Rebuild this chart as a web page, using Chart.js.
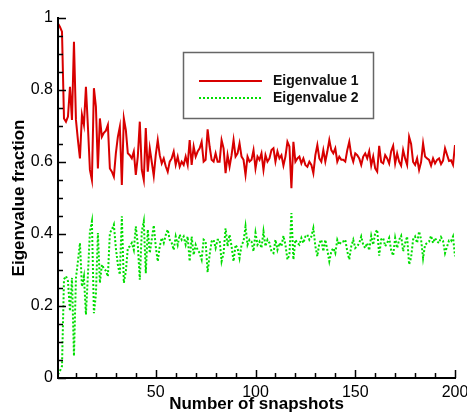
<!DOCTYPE html>
<html>
<head>
<meta charset="utf-8">
<script src="https://cdn.jsdelivr.net/npm/chart.js"></script>
<style>
  html, body { margin: 0; padding: 0; background: #fff; }
  canvas { display: block; }
</style>
</head>
<body>
<canvas id="chart" width="467" height="419"></canvas>
<script>
const FONT = '"Liberation Sans", Arial, Helvetica, sans-serif';

// snapshot count, 1..200
const snapshots = Array.from({ length: 200 }, (_, i) => i + 1);

const eigen1 = [
  0.985, 0.975, 0.962, 0.721, 0.712, 0.726, 0.809, 0.717, 0.934, 0.717,
  0.660, 0.610, 0.731, 0.703, 0.809, 0.698, 0.578, 0.550, 0.805, 0.754,
  0.582, 0.721, 0.670, 0.681, 0.687, 0.703, 0.582, 0.573, 0.559, 0.624,
  0.670, 0.698, 0.536, 0.721, 0.689, 0.624, 0.619, 0.610, 0.629, 0.564,
  0.615, 0.712, 0.578, 0.550, 0.694, 0.573, 0.638, 0.600, 0.561, 0.620,
  0.661, 0.619, 0.596, 0.610, 0.588, 0.573, 0.601, 0.610, 0.629, 0.592,
  0.615, 0.587, 0.601, 0.592, 0.615, 0.592, 0.661, 0.592, 0.643, 0.615,
  0.629, 0.638, 0.656, 0.601, 0.606, 0.691, 0.643, 0.606, 0.601, 0.624,
  0.601, 0.601, 0.661, 0.638, 0.569, 0.619, 0.587, 0.619, 0.661, 0.615,
  0.624, 0.652, 0.615, 0.606, 0.564, 0.615, 0.601, 0.606, 0.633, 0.582,
  0.615, 0.606, 0.624, 0.578, 0.619, 0.601, 0.610, 0.633, 0.638, 0.601,
  0.629, 0.610, 0.619, 0.590, 0.615, 0.656, 0.643, 0.527, 0.656, 0.601,
  0.610, 0.615, 0.596, 0.610, 0.592, 0.587, 0.601, 0.592, 0.569, 0.619,
  0.647, 0.610, 0.601, 0.633, 0.601, 0.629, 0.661, 0.633, 0.624, 0.638,
  0.601, 0.615, 0.606, 0.606, 0.601, 0.633, 0.656, 0.619, 0.601, 0.624,
  0.619, 0.610, 0.592, 0.615, 0.624, 0.610, 0.630, 0.590, 0.615, 0.582,
  0.573, 0.645, 0.600, 0.596, 0.619, 0.610, 0.596, 0.630, 0.645, 0.596,
  0.624, 0.601, 0.590, 0.633, 0.610, 0.592, 0.670, 0.650, 0.600, 0.592,
  0.610, 0.578, 0.600, 0.652, 0.615, 0.610, 0.606, 0.590, 0.610, 0.596,
  0.606, 0.610, 0.594, 0.604, 0.638, 0.620, 0.603, 0.605, 0.592, 0.647
];

const eigen2 = [
  0.010, 0.020, 0.033, 0.274, 0.283, 0.269, 0.186, 0.278, 0.061, 0.278,
  0.325, 0.375, 0.254, 0.282, 0.176, 0.287, 0.407, 0.435, 0.180, 0.231,
  0.403, 0.264, 0.315, 0.304, 0.298, 0.282, 0.403, 0.412, 0.426, 0.361,
  0.315, 0.287, 0.449, 0.264, 0.296, 0.361, 0.366, 0.375, 0.356, 0.421,
  0.370, 0.273, 0.407, 0.435, 0.291, 0.412, 0.347, 0.385, 0.424, 0.365,
  0.324, 0.366, 0.389, 0.375, 0.397, 0.412, 0.384, 0.375, 0.356, 0.393,
  0.370, 0.398, 0.384, 0.393, 0.370, 0.393, 0.324, 0.393, 0.342, 0.370,
  0.356, 0.347, 0.329, 0.384, 0.379, 0.294, 0.342, 0.379, 0.384, 0.361,
  0.384, 0.384, 0.324, 0.347, 0.416, 0.366, 0.398, 0.366, 0.324, 0.370,
  0.361, 0.333, 0.370, 0.379, 0.421, 0.370, 0.384, 0.379, 0.352, 0.403,
  0.370, 0.379, 0.361, 0.407, 0.366, 0.384, 0.375, 0.352, 0.347, 0.384,
  0.356, 0.375, 0.366, 0.395, 0.370, 0.329, 0.342, 0.458, 0.329, 0.384,
  0.375, 0.370, 0.389, 0.375, 0.393, 0.398, 0.384, 0.393, 0.416, 0.366,
  0.338, 0.375, 0.384, 0.352, 0.384, 0.356, 0.324, 0.352, 0.361, 0.347,
  0.384, 0.370, 0.379, 0.379, 0.384, 0.352, 0.329, 0.366, 0.384, 0.361,
  0.366, 0.375, 0.393, 0.370, 0.361, 0.375, 0.355, 0.395, 0.370, 0.403,
  0.412, 0.340, 0.385, 0.389, 0.366, 0.375, 0.389, 0.355, 0.340, 0.389,
  0.361, 0.384, 0.395, 0.352, 0.375, 0.393, 0.315, 0.335, 0.385, 0.393,
  0.375, 0.407, 0.385, 0.333, 0.370, 0.375, 0.379, 0.395, 0.375, 0.389,
  0.379, 0.375, 0.391, 0.381, 0.347, 0.365, 0.382, 0.380, 0.393, 0.338
];

const xTicks = [50, 100, 150, 200];
const yTicks = [0, 0.2, 0.4, 0.6, 0.8, 1];

const seriesNames = ["Eigenvalue 1", "Eigenvalue 2"];
const RED = "#d80000";
const GREEN = "#00dd00";

function toPoints(values) {
  return values.map((v, i) => ({ x: snapshots[i], y: v }));
}

// inward ticks, axis lines and the boxed legend
const framePlugin = {
  id: "frame",
  afterDatasetsDraw(chart) {
    const { ctx, chartArea: a, scales } = chart;
    const xs = scales.x, ys = scales.y;
    ctx.save();
    ctx.strokeStyle = "#000";

    ctx.lineWidth = 1.5;
    ctx.beginPath();
    for (let v = 10; v <= 200; v += 10) {
      const px = Math.round(xs.getPixelForValue(v)) + 0.5;
      const len = v % 50 === 0 ? 8 : 5;
      ctx.moveTo(px, a.bottom);
      ctx.lineTo(px, a.bottom - len);
    }
    for (let k = 0; k <= 20; k++) {
      const py = Math.round(ys.getPixelForValue(k * 0.05)) + 0.5;
      const len = k % 4 === 0 ? 8 : 5;
      ctx.moveTo(a.left, py);
      ctx.lineTo(a.left + len, py);
    }
    ctx.stroke();

    ctx.lineWidth = 2;
    ctx.beginPath();
    ctx.moveTo(a.left, a.top - 1);
    ctx.lineTo(a.left, a.bottom);
    ctx.lineTo(a.right + 1, a.bottom);
    ctx.stroke();

    // legend box
    const bx = 183.5, by = 52.5, bw = 190, bh = 66;
    ctx.fillStyle = "#fff";
    ctx.fillRect(bx, by, bw, bh);
    ctx.lineWidth = 1.5;
    ctx.strokeStyle = "#666";
    ctx.strokeRect(bx, by, bw, bh);

    const rows = [
      { label: seriesNames[0], color: RED, dash: [], y: 81 },
      { label: seriesNames[1], color: GREEN, dash: [2, 2], y: 98 }
    ];
    ctx.font = "bold 14px " + FONT;
    ctx.textBaseline = "middle";
    rows.forEach((r) => {
      ctx.strokeStyle = r.color;
      ctx.lineWidth = 2;
      ctx.setLineDash(r.dash);
      ctx.beginPath();
      ctx.moveTo(199, r.y);
      ctx.lineTo(262, r.y);
      ctx.stroke();
      ctx.setLineDash([]);
      ctx.fillStyle = "#111";
      ctx.fillText(r.label, 273, r.y);
    });
    ctx.restore();
  }
};

new Chart(document.getElementById("chart"), {
  type: "line",
  data: {
    datasets: [
      {
        label: seriesNames[0],
        data: toPoints(eigen1),
        borderColor: RED,
        borderWidth: 2,
        pointRadius: 0,
        tension: 0
      },
      {
        label: seriesNames[1],
        data: toPoints(eigen2),
        borderColor: GREEN,
        borderWidth: 2,
        borderDash: [2, 2],
        pointRadius: 0,
        tension: 0
      }
    ]
  },
  options: {
    responsive: false,
    animation: false,
    devicePixelRatio: 1,
    layout: { padding: { left: 0, top: 18, right: 12, bottom: 0 } },
    plugins: {
      legend: { display: false },
      tooltip: { enabled: false }
    },
    scales: {
      x: {
        type: "linear",
        min: 1,
        max: 200,
        afterBuildTicks: (s) => { s.ticks = xTicks.map((v) => ({ value: v })); },
        afterFit: (s) => {
          s.height = 41;
          s.paddingLeft = 0;
          s.paddingRight = 0;
        },
        grid: { display: false, drawTicks: false },
        border: { display: false },
        ticks: {
          color: "#000",
          padding: 5,
          maxRotation: 0,
          font: { family: FONT, size: 16 }
        },
        title: {
          display: true,
          text: "Number of snapshots",
          color: "#000",
          padding: { top: 0, bottom: 4 },
          font: { family: FONT, size: 17, weight: "bold" }
        }
      },
      y: {
        min: 0,
        max: 1,
        afterBuildTicks: (s) => { s.ticks = yTicks.map((v) => ({ value: v })); },
        afterFit: (s) => {
          s.width = 58;
          s.paddingTop = 0;
          s.paddingBottom = 0;
        },
        grid: { display: false, drawTicks: false },
        border: { display: false },
        ticks: {
          color: "#000",
          padding: 5,
          font: { family: FONT, size: 16 },
          callback: (v) => String(Math.round(v * 10) / 10)
        },
        title: {
          display: true,
          text: "Eigenvalue fraction",
          color: "#000",
          padding: { top: 9, bottom: 0 },
          font: { family: FONT, size: 17, weight: "bold" }
        }
      }
    }
  },
  plugins: [framePlugin]
});
</script>
</body>
</html>
